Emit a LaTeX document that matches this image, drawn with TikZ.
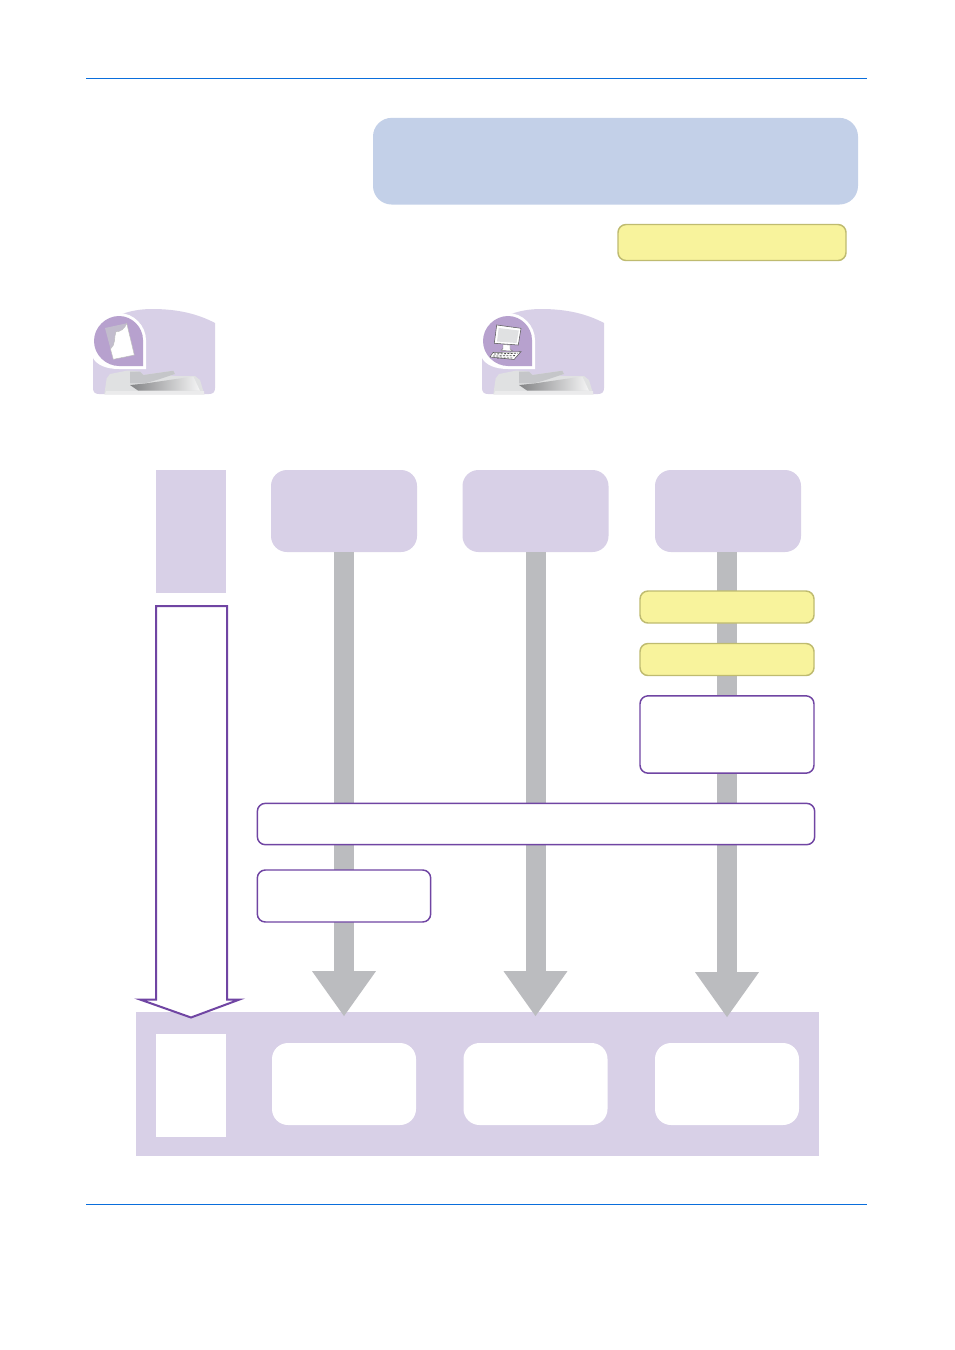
\documentclass[tikz,border=0pt]{standalone}
\usetikzlibrary{arrows.meta}
\definecolor{lil}{HTML}{D8D0E7}
\definecolor{lildark}{HTML}{B7A1CE}
\definecolor{purp}{HTML}{7045A3}
\definecolor{gry}{HTML}{BBBCBF}
\definecolor{yel}{HTML}{F8F39C}
\definecolor{yelb}{HTML}{BFBB70}
\definecolor{blu}{HTML}{C3D0E8}
\definecolor{rule}{HTML}{0A6EDC}
\tikzset{
 x=0.75pt,y=-0.75pt,
 box/.style={inner sep=0pt,outer sep=0pt,minimum width=#1},
 head/.style={box=146*0.75pt,minimum height=61.5pt,fill=lil,rounded corners=12pt},
 result/.style={box=144*0.75pt,minimum height=61.5pt,fill=white,rounded corners=12pt},
 yelbox/.style={box=174*0.75pt,minimum height=24pt,fill=yel,draw=yelb,line width=1.1pt,rounded corners=6pt},
 purpbox/.style={inner sep=0pt,outer sep=0pt,fill=white,draw=purp,line width=1.1pt,rounded corners=6pt},
 flow/.style={draw=gry,line width=15pt,-{Triangle[length=34pt,width=45.5pt,color=gry]}},
 page rule/.style={draw=rule,line width=0.7pt},
 mfpicon/.pic={
  \fill[lil] (93,332) .. controls (110,316) and (130,309) .. (152,309) .. controls (178,309) and (198,314) .. (215,323) -- (215,388) .. controls (215,392) and (213,394) .. (209,394) -- (99,394) .. controls (95,394) and (93,392) .. (93,388) -- cycle;
  \fill[white] (93,328) .. controls (98,318) and (108,313) .. (119,313) .. controls (134,313) and (146,326) .. (146,340) -- (146,369) -- (119,369) .. controls (106,369) and (97,365) .. (93,358) -- cycle;
  \fill[lildark] (119,316) .. controls (132,316) and (143,327) .. (143,340) -- (143,366) -- (119,366) .. controls (106,366) and (94,355) .. (94,341) .. controls (94,327) and (106,316) .. (119,316) -- cycle;
  \fill[gry!45!white] (104.3,394.3) -- (106.7,378.3) -- (110,374) -- (126.7,370.7) -- (130,370.7) -- (140,371.7) -- (143.3,375) -- (173.3,370.7) -- (175,374) -- (170,376) -- (195,376) -- (200,380) -- (204.3,394.3) -- cycle;
  \fill[gry!85!white] (130,371.5) -- (140,371.7) -- (143.3,375) -- (173.3,370.7) -- (175,374) -- (156.7,380) -- (145,383.3) -- (130,383.3) -- cycle;
  \shade[left color=gry!70!black,right color=gry!15!white] (130,385) -- (145,383.5) -- (193.3,376.5) -- (200,390.7) -- (138.3,390.7) -- cycle;
  \fill[gry!30!white] (106,391) -- (204,391) -- (204.3,394.3) -- (105,394.3) -- cycle;
 },
}
\begin{document}
\begin{tikzpicture}
\useasboundingbox (0,0) rectangle (954,1350);
\fill[white] (0,0) rectangle (954,1350);
% page rules
\coordinate (r1a) at (86,78.5); \coordinate (r1b) at (867,78.5);
\coordinate (r2a) at (86,1204.5); \coordinate (r2b) at (867,1204.5);
\draw[page rule] (r1a) -- (r1b);
\draw[page rule] (r2a) -- (r2b);
% top boxes
\node[box=485*0.75pt,minimum height=65pt,fill=blu,rounded corners=14pt] (title) at (615.5,161.2) {};
\node[box=228*0.75pt,minimum height=27pt,fill=yel,draw=yelb,line width=1.1pt,rounded corners=6pt] (note) at (732,242.5) {};
% icons
\pic at (0,0) {mfpicon};
\fill[gray!25!lil] (105,328) -- (126.7,323.3) -- (134.3,355) -- (113.3,359.3) -- cycle;
\fill[white,draw=gray!55,line width=0.3pt] (126.7,323.3) -- (134.3,355) -- (113.3,359.3) -- (110.5,349) .. controls (116,345) and (114,336) .. (116,331.7) .. controls (120,332) and (125,329) .. (126.7,323.3) -- cycle;
\pic at (389,0) {mfpicon};
\fill[white,draw=gray!70!black,line width=0.4pt] (496.7,325) -- (521,328.3) -- (518.3,345) -- (494.3,343.3) -- cycle;
\fill[gry!45!white] (498.7,328) -- (518.8,330.5) -- (516.5,343) -- (497,341.5) -- cycle;
\fill[white,draw=gray,line width=0.3pt] (503,344.5) -- (510,345) -- (510,349) -- (513,351) -- (501,350.5) -- (503,348.5) -- cycle;
\fill[white,draw=gray!70!black,line width=0.4pt] (493,352.5) -- (521,351.7) -- (514,359.5) -- (490,357) -- cycle;
\draw[gray!60!black,line width=0.6pt,dash pattern=on 1.5pt off 1pt] (494,354) -- (518,353.2) (493,356) -- (516,355.6) (497,358) -- (513,358);
% left column
\node[box=70*0.75pt,minimum height=92.25pt,fill=lil] (steps) at (191,531.5) {};
% bottom band
\node[box=683*0.75pt,minimum height=108pt,fill=lil] (band) at (477.5,1084) {};
\node[box=70*0.75pt,minimum height=77.25pt,fill=white] (resleft) at (191,1085.5) {};
\node[result] (res1) at (344,1084) {};
\node[result] (res2) at (535.5,1084) {};
\node[result] (res3) at (727,1084) {};
% top heads
\node[head] (h1) at (344,511) {};
\node[head] (h2) at (535.5,511) {};
\node[head] (h3) at (728,511) {};
% flows
\coordinate (t1) at (344,1016.5);
\coordinate (t2) at (535.5,1016.5);
\coordinate (t3) at (727,1017.5);
\draw[flow] (h1.south) -- (t1);
\draw[flow] (h2.south) -- (t2);
\draw[flow] (h3.south -| t3) -- (t3);
% left arrow
\draw[purp,line width=1.5pt,fill=white,line join=miter] (156,606) -- (227,606) -- (227,999.5) -- (239.5,999.5) -- (191,1017.5) -- (140,999.5) -- (156,999.5) -- cycle;
% boxes on the flows
\node[yelbox] (y1) at (727,607) {};
\node[yelbox] (y2) at (727,659.5) {};
\node[purpbox,minimum width=130.5pt,minimum height=58pt] (p1) at (727,734.5) {};
\node[purpbox,minimum width=418pt,minimum height=31pt] (p2) at (536,824) {};
\node[purpbox,minimum width=130pt,minimum height=39pt] (p3) at (344,896) {};
\end{tikzpicture}
\end{document}
